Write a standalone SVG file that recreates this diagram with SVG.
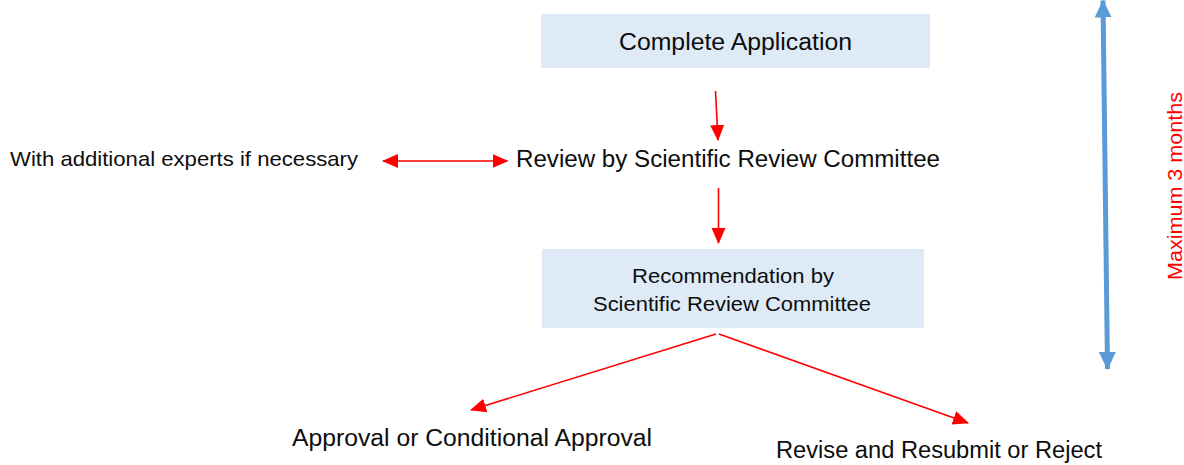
<svg xmlns="http://www.w3.org/2000/svg" width="1184" height="465" viewBox="0 0 1184 465">
<style>
text{font-family:"Liberation Sans",Arial,sans-serif;fill:#0d0d0d}
.box{fill:#deebf7}
.big{font-size:23.5px}
.sm{font-size:21px}
.red{stroke:#ff0000;stroke-width:1.6;fill:none}
.lbl{fill:#ff0000;font-size:21px}
</style>
<defs>
<marker id="ah" markerUnits="userSpaceOnUse" markerWidth="16" markerHeight="16" viewBox="0 0 16 14" refX="15" refY="7" orient="auto-start-reverse">
<path d="M0,0 L16,7 L0,14 z" fill="#ff0000"/>
</marker>
<marker id="bh" markerUnits="userSpaceOnUse" markerWidth="18" markerHeight="18" viewBox="0 0 18 17" refX="17" refY="8.5" orient="auto-start-reverse">
<path d="M0,0 L18,8.5 L0,17 z" fill="#5b9bd5"/>
</marker>
</defs>
<g id="complete-application">
<rect class="box" x="541" y="14" width="389" height="54"/>
<text class="big" x="619" y="50" textLength="233" lengthAdjust="spacingAndGlyphs">Complete Application</text>
</g>
<g id="review">
<text class="big" x="516" y="167" textLength="424" lengthAdjust="spacingAndGlyphs">Review by Scientific Review Committee</text>
</g>
<g id="experts">
<text class="sm" x="10" y="166" textLength="348" lengthAdjust="spacingAndGlyphs">With additional experts if necessary</text>
</g>
<g id="recommendation">
<rect class="box" x="542" y="249" width="382" height="79"/>
<text class="sm" x="632" y="283" textLength="202" lengthAdjust="spacingAndGlyphs">Recommendation by</text>
<text class="sm" x="593" y="311" textLength="278" lengthAdjust="spacingAndGlyphs">Scientific Review Committee</text>
</g>
<g id="approval">
<text class="big" x="292" y="446" textLength="360" lengthAdjust="spacingAndGlyphs">Approval or Conditional Approval</text>
</g>
<g id="revise">
<text class="big" x="776" y="458" textLength="326" lengthAdjust="spacingAndGlyphs">Revise and Resubmit or Reject</text>
</g>
<g id="duration">
<text class="lbl" transform="translate(1182,280) rotate(-90)" textLength="188" lengthAdjust="spacingAndGlyphs">Maximum 3 months</text>
</g>
<g id="connectors">
<line class="red" x1="715.5" y1="91" x2="718" y2="140" marker-end="url(#ah)"/>
<line class="red" x1="718.5" y1="188" x2="718.5" y2="243" marker-end="url(#ah)"/>
<line class="red" x1="383" y1="161" x2="507.5" y2="161" marker-start="url(#ah)" marker-end="url(#ah)"/>
<line class="red" x1="716" y1="334" x2="471" y2="410" marker-end="url(#ah)"/>
<line class="red" x1="719" y1="334" x2="968" y2="423" marker-end="url(#ah)"/>
<line x1="1103" y1="0.5" x2="1107.5" y2="369" stroke="#5b9bd5" stroke-width="5" marker-start="url(#bh)" marker-end="url(#bh)"/>
</g>
</svg>
